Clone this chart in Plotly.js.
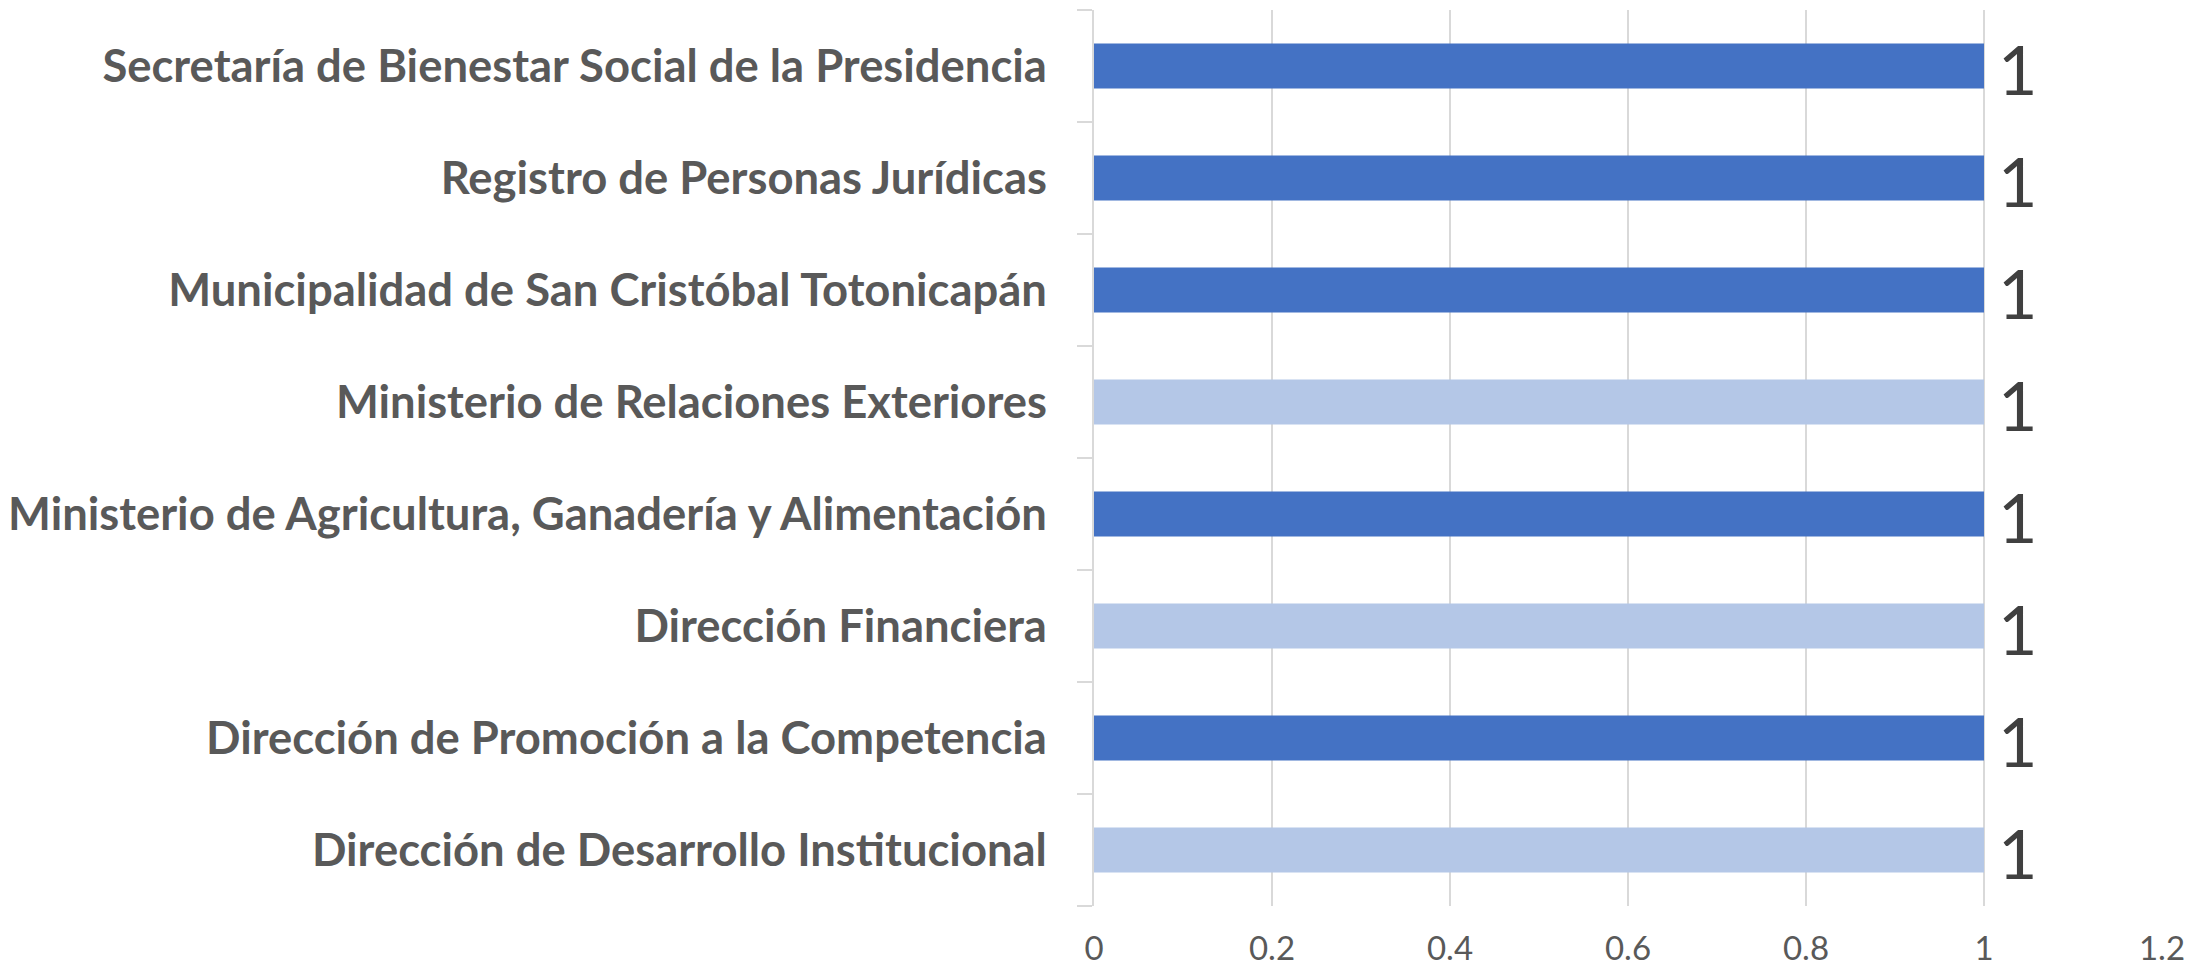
<!DOCTYPE html>
<html>
<head>
<meta charset="utf-8">
<script src="https://cdn.plot.ly/plotly-3.0.1.min.js"></script>
<style>
html,body{margin:0;padding:0;background:#fff;}
#chart{width:2197px;height:970px;}
</style>
</head>
<body>
<div id="chart"></div>
<script>
// Categories listed bottom to top (as drawn on the y axis)
const categories = [
  "Dirección de Desarrollo Institucional",
  "Dirección de Promoción a la Competencia",
  "Dirección Financiera",
  "Ministerio de Agricultura, Ganadería y Alimentación",
  "Ministerio de Relaciones Exteriores",
  "Municipalidad de San Cristóbal Totonicapán",
  "Registro de Personas Jurídicas",
  "Secretaría de Bienestar Social de la Presidencia"
];
const values = [1, 1, 1, 1, 1, 1, 1, 1];
const xTickValues = [0, 0.2, 0.4, 0.6, 0.8, 1, 1.2];
const xTickLabels = ["0", "0.2", "0.4", "0.6", "0.8", "1", "1.2"];

const DARK = "#4472C4", LIGHT = "#B4C7E7";
const barColors = [LIGHT, DARK, LIGHT, DARK, LIGHT, DARK, DARK, DARK];

const FONT = "Lato, 'Open Sans', sans-serif";

const trace = {
  type: "bar",
  orientation: "h",
  y: categories,
  x: values,
  marker: {color: barColors, line: {width: 0}},
  hoverinfo: "none"
};

const annotations = categories.map((c, i) => ({
  x: values[i],
  y: c,
  xref: "x",
  yref: "y",
  text: String(values[i]),
  showarrow: false,
  xanchor: "left",
  yanchor: "middle",
  xshift: 12,
  yshift: -2,
  font: {family: FONT, size: 68, color: "#404040"}
}));

const layout = {
  width: 2197,
  height: 970,
  margin: {l: 1093.5, r: 35, t: 10, b: 64, pad: 0},
  paper_bgcolor: "#fff",
  plot_bgcolor: "#fff",
  showlegend: false,
  bargap: 0.6,
  annotations: annotations,
  xaxis: {
    range: [0, 1.2],
    tickvals: xTickValues,
    ticktext: xTickLabels,
    showgrid: true,
    gridcolor: "#d9d9d9",
    gridwidth: 1.5,
    zeroline: false,
    showline: false,
    ticks: "",
    tickfont: {family: FONT, size: 33, color: "#595959"},
    ticklabelstandoff: 20,
    fixedrange: true
  },
  yaxis: {
    type: "category",
    showgrid: false,
    zeroline: false,
    showline: true,
    linecolor: "#d9d9d9",
    linewidth: 2,
    ticks: "outside",
    tickson: "boundaries",
    ticklen: 15,
    tickwidth: 2,
    tickcolor: "#d9d9d9",
    tickfont: {family: FONT, size: 45.4, color: "#595959", weight: "bold"},
    ticklabelstandoff: 36,
    fixedrange: true
  }
};

Plotly.newPlot("chart", [trace], layout, {staticPlot: true, displayModeBar: false});
</script>
</body>
</html>
